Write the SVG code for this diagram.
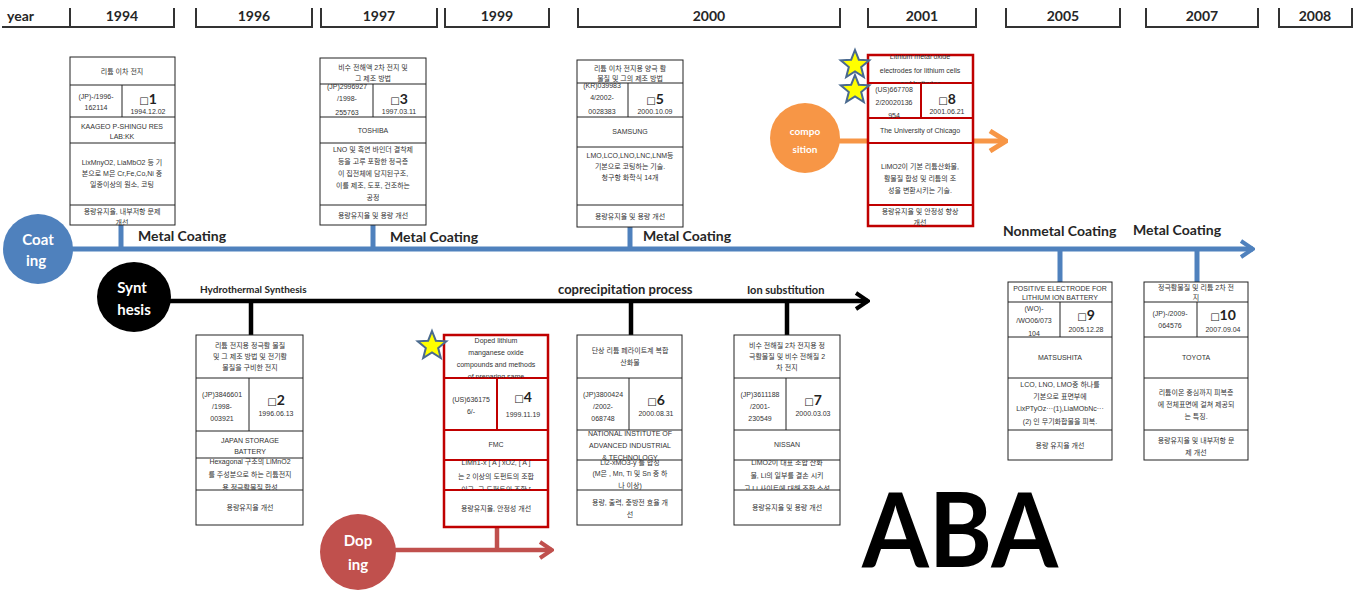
<svg xmlns="http://www.w3.org/2000/svg" width="1359" height="592" viewBox="0 0 1359 592">
<style>
.hd{font:bold 14px Lato,"Liberation Sans",sans-serif;fill:#262626;text-anchor:middle}
.hb{fill:none;stroke:#333;stroke-width:2}
.box{fill:#fff;stroke:#222;stroke-width:1}
.rbox{fill:#fff;stroke:#c00000;stroke-width:2.5}
.ln{stroke:#222;stroke-width:1}
.rln{stroke:#c00000;stroke-width:2}
.t{font:7px "Liberation Sans","Noto Sans CJK KR",sans-serif;fill:#333;text-anchor:middle}
.no{font:bold 14px Lato,"Liberation Sans",sans-serif;fill:#222;text-anchor:middle}
.no tspan{font-size:10px;font-family:"DejaVu Sans",sans-serif}
.lab{font:bold 14px Lato,"Liberation Sans",sans-serif;fill:#262626}
.ct{font:bold 15px Lato,"Liberation Sans",sans-serif;fill:#fff;text-anchor:middle}
.star{fill:#ffff00;stroke:#4a6a8f;stroke-width:2;stroke-linejoin:miter}
</style>
<defs>
<marker id="arrB" viewBox="0 0 20 20" refX="18" refY="10" markerWidth="20" markerHeight="20" markerUnits="userSpaceOnUse" orient="auto"><path d="M6,2 L18,10 L6,18" fill="none" stroke="#4f81bd" stroke-width="4"/></marker>
<marker id="arrK" viewBox="0 0 20 20" refX="18" refY="10" markerWidth="20" markerHeight="20" markerUnits="userSpaceOnUse" orient="auto"><path d="M6,2 L18,10 L6,18" fill="none" stroke="#000" stroke-width="4"/></marker>
<marker id="arrR" viewBox="0 0 20 20" refX="18" refY="10" markerWidth="20" markerHeight="20" markerUnits="userSpaceOnUse" orient="auto"><path d="M6,2 L18,10 L6,18" fill="none" stroke="#c0504d" stroke-width="4"/></marker>
<marker id="arrO" viewBox="0 0 24 24" refX="22" refY="12" markerWidth="24" markerHeight="24" markerUnits="userSpaceOnUse" orient="auto"><path d="M6,2 L22,12 L6,22" fill="none" stroke="#f79646" stroke-width="5"/></marker>
<path id="star" d="M0,-15 L3.82,-5.26 L14.27,-4.64 L6.18,2.01 L8.82,12.14 L0,6.5 L-8.82,12.14 L-6.18,2.01 L-14.27,-4.64 L-3.82,-5.26 Z"/>
<clipPath id="cp1e"><rect x="70" y="205" width="105" height="20"/></clipPath>
<clipPath id="cp3a"><rect x="320" y="84" width="53" height="33"/></clipPath>
<clipPath id="cp5a"><rect x="577" y="83" width="51" height="34"/></clipPath>
<clipPath id="cp8t"><rect x="868" y="55" width="105" height="28"/></clipPath>
<clipPath id="cp8a"><rect x="868" y="83" width="53" height="35"/></clipPath>
<clipPath id="cp8e"><rect x="868" y="205" width="105" height="21"/></clipPath>
<clipPath id="cp2d"><rect x="196" y="458" width="107" height="32"/></clipPath>
<clipPath id="cp4t"><rect x="444" y="335" width="104" height="43"/></clipPath>
<clipPath id="cp4d"><rect x="444" y="460" width="104" height="30"/></clipPath>
<clipPath id="cp6c"><rect x="577" y="430" width="105" height="30"/></clipPath>
<clipPath id="cp6d"><rect x="577" y="460" width="105" height="30"/></clipPath>
<clipPath id="cp7d"><rect x="734" y="460" width="106" height="30"/></clipPath>
<clipPath id="cp9a"><rect x="1008" y="302" width="52" height="35"/></clipPath>
</defs>
<rect width="1359" height="592" fill="#fff"/>

<!-- year header -->
<g id="header">
<text x="7" y="21" class="hd" style="text-anchor:start">year</text>
<path class="hb" d="M2,27 H70"/>
<path class="hb" d="M70,8 V27 H174 V8"/><text x="122" y="21" class="hd">1994</text>
<path class="hb" d="M196,8 V27 H312 V8"/><text x="254" y="21" class="hd">1996</text>
<path class="hb" d="M321,8 V27 H437 V8"/><text x="379" y="21" class="hd">1997</text>
<path class="hb" d="M445,8 V27 H549 V8"/><text x="497" y="21" class="hd">1999</text>
<path class="hb" d="M578,8 V27 H840 V8"/><text x="709" y="21" class="hd">2000</text>
<path class="hb" d="M868,8 V27 H976 V8"/><text x="922" y="21" class="hd">2001</text>
<path class="hb" d="M1006,8 V27 H1120 V8"/><text x="1063" y="21" class="hd">2005</text>
<path class="hb" d="M1146,8 V27 H1258 V8"/><text x="1202" y="21" class="hd">2007</text>
<path class="hb" d="M1279,8 V27 H1352 V8"/><text x="1315" y="21" class="hd">2008</text>
</g>

<!-- timelines and links -->
<g id="connectors">
<line x1="40" y1="249" x2="1253" y2="249" stroke="#4f81bd" stroke-width="5" marker-end="url(#arrB)"/>
<line x1="121" y1="225" x2="121" y2="249" stroke="#4f81bd" stroke-width="5"/>
<line x1="373" y1="225" x2="373" y2="249" stroke="#4f81bd" stroke-width="5"/>
<line x1="630" y1="227" x2="630" y2="249" stroke="#4f81bd" stroke-width="5"/>
<line x1="1060" y1="249" x2="1060" y2="282" stroke="#4f81bd" stroke-width="5"/>
<line x1="1197" y1="249" x2="1197" y2="282" stroke="#4f81bd" stroke-width="5"/>
<line x1="150" y1="301" x2="868" y2="301" stroke="#000" stroke-width="4.5" marker-end="url(#arrK)"/>
<line x1="251" y1="301" x2="251" y2="335" stroke="#000" stroke-width="4.5"/>
<line x1="631" y1="301" x2="631" y2="335" stroke="#000" stroke-width="4.5"/>
<line x1="787" y1="301" x2="787" y2="335" stroke="#000" stroke-width="4.5"/>
<line x1="380" y1="550" x2="552" y2="550" stroke="#c0504d" stroke-width="4.5" marker-end="url(#arrR)"/>
<line x1="497" y1="527" x2="497" y2="550" stroke="#c0504d" stroke-width="4.5"/>
<line x1="820" y1="141" x2="1006" y2="141" stroke="#f79646" stroke-width="5" marker-end="url(#arrO)"/>
</g>

<!-- category labels -->
<g id="labels">
<text x="138" y="241" class="lab">Metal Coating</text>
<text x="390" y="242" class="lab">Metal Coating</text>
<text x="643" y="241" class="lab">Metal Coating</text>
<text x="1003" y="236" class="lab">Nonmetal Coating</text>
<text x="1133" y="235" class="lab">Metal Coating</text>
<text x="200" y="293" class="lab" style="font-size:10px">Hydrothermal Synthesis</text>
<text x="558" y="294" class="lab" style="font-size:13px">coprecipitation process</text>
<text x="747" y="294" class="lab" style="font-size:11px">Ion substitution</text>
</g>

<!-- category circles -->
<g id="coating">
<circle cx="38" cy="249" r="35" fill="#4f81bd"/>
<text x="38" y="245" class="ct">Coat</text><text x="36" y="266" class="ct">ing</text>
</g>
<g id="synthesis">
<ellipse cx="134" cy="297" rx="37" ry="35" fill="#000"/>
<text x="132" y="293" class="ct">Synt</text><text x="134" y="315" class="ct">hesis</text>
</g>
<g id="doping">
<circle cx="358" cy="552" r="38" fill="#c0504d"/>
<text x="358" y="546" class="ct">Dop</text><text x="358" y="570" class="ct">ing</text>
</g>
<g id="composition">
<circle cx="805" cy="138" r="35" fill="#f79646"/>
<text x="805" y="135" class="ct" style="font-size:10px">compo</text><text x="805" y="153" class="ct" style="font-size:10px">sition</text>
</g>

<!-- patent 1 -->
<g id="p1">
<rect class="box" x="70" y="57" width="105" height="168"/>
<path class="ln" d="M70,85 H175 M70,117 H175 M70,143 H175 M70,205 H175 M122,85 V117"/>
<text class="t" x="122" y="74">리튬 이차 전지</text>
<text class="t" x="96" y="99">(JP)-/1996-</text><text class="t" x="96" y="110">162114</text>
<text class="no" x="148" y="104"><tspan>□</tspan>1</text><text class="t" x="148" y="114">1994.12.02</text>
<text class="t" x="122" y="129">KAAGEO P-SHINGU RES</text><text class="t" x="122" y="139">LAB:KK</text>
<text class="t" x="122" y="165">LixMnyO2, LiaMbO2 등 기</text>
<text class="t" x="122" y="176">본으로 M은 Cr,Fe,Co,Ni 중</text>
<text class="t" x="122" y="187">일종이상의 원소, 코팅</text>
<g clip-path="url(#cp1e)"><text class="t" x="122" y="214">용량유지율, 내부저항 문제</text><text class="t" x="122" y="225">개선</text></g>
</g>

<!-- patent 3 -->
<g id="p3">
<rect class="box" x="320" y="58" width="106" height="167"/>
<path class="ln" d="M320,84 H426 M320,117 H426 M320,143 H426 M320,205 H426 M373,84 V117"/>
<text class="t" x="373" y="70">비수 전해액 2차 전지 및</text><text class="t" x="373" y="81">그 제조 방법</text>
<g clip-path="url(#cp3a)"><text class="t" x="347" y="89">(JP)2996927</text><text class="t" x="347" y="101">/1998-</text><text class="t" x="347" y="115">255763</text></g>
<text class="no" x="399" y="104"><tspan>□</tspan>3</text><text class="t" x="399" y="114">1997.03.11</text>
<text class="t" x="373" y="133">TOSHIBA</text>
<text class="t" x="373" y="152">LNO 및 흑연 바인더 결착제</text>
<text class="t" x="373" y="164">등을 고루 포함한 정극층</text>
<text class="t" x="373" y="176">이 집전체에 담지된구조,</text>
<text class="t" x="373" y="188">이를 제조, 도포, 건조하는</text>
<text class="t" x="373" y="200">공정</text>
<text class="t" x="373" y="218">용량유지율 및 용량 개선</text>
</g>

<!-- patent 5 -->
<g id="p5">
<rect class="box" x="577" y="60" width="106" height="167"/>
<path class="ln" d="M577,83 H683 M577,117 H683 M577,147 H683 M577,205 H683 M628,83 V117"/>
<text class="t" x="630" y="71">리튬 이차 전지용 양극 활</text><text class="t" x="630" y="81">물질 및 그의 제조 방법</text>
<g clip-path="url(#cp5a)"><text class="t" x="602" y="88">(KR)039983</text><text class="t" x="602" y="100">4/2002-</text><text class="t" x="602" y="114">0028383</text></g>
<text class="no" x="655" y="104"><tspan>□</tspan>5</text><text class="t" x="655" y="114">2000.10.09</text>
<text class="t" x="630" y="134">SAMSUNG</text>
<text class="t" x="630" y="158">LMO,LCO,LNO,LNC,LNM등</text>
<text class="t" x="630" y="169">기본으로 코팅하는 기술.</text>
<text class="t" x="630" y="180">청구항 화학식 14개</text>
<text class="t" x="630" y="219">용량유지율 및 용량 개선</text>
</g>

<!-- patent 8 -->
<g id="p8">
<rect class="rbox" x="868" y="55" width="105" height="171"/>
<path class="rln" d="M868,83 H973 M868,118 H973 M868,143 H973 M868,205 H973 M921,83 V118"/>
<g clip-path="url(#cp8t)"><text class="t" x="920" y="59">Lithium metal oxide</text><text class="t" x="920" y="73">electrodes for lithium cells</text><text class="t" x="920" y="86">and batteries</text></g>
<g clip-path="url(#cp8a)"><text class="t" x="894" y="92">(US)667708</text><text class="t" x="894" y="105">2/20020136</text><text class="t" x="894" y="118">954</text></g>
<text class="no" x="947" y="104"><tspan>□</tspan>8</text><text class="t" x="947" y="114">2001.06.21</text>
<text class="t" x="920" y="133">The University of Chicago</text>
<text class="t" x="920" y="169">LiMO2이 기본 리튬산화물,</text>
<text class="t" x="920" y="181">활물질 합성 및 리튬의 조</text>
<text class="t" x="920" y="193">성을 변환시키는 기술.</text>
<g clip-path="url(#cp8e)"><text class="t" x="920" y="214">용량유지율 및 안정성 향상</text><text class="t" x="920" y="225">개선</text></g>
<use href="#star" class="star" x="855" y="65"/>
<use href="#star" class="star" x="855" y="90"/>
</g>

<!-- patent 2 -->
<g id="p2">
<rect class="box" x="196" y="335" width="107" height="190"/>
<path class="ln" d="M196,378 H303 M196,431 H303 M196,458 H303 M196,490 H303 M249,378 V431"/>
<text class="t" x="250" y="348">리튬 전지용 정극활 물질</text><text class="t" x="250" y="359">및 그 제조 방법 및 전기활</text><text class="t" x="250" y="370">물질을 구비한 전지</text>
<text class="t" x="222" y="397">(JP)3846601</text><text class="t" x="222" y="409">/1998-</text><text class="t" x="222" y="421">003921</text>
<text class="no" x="276" y="405"><tspan>□</tspan>2</text><text class="t" x="276" y="416">1996.06.13</text>
<text class="t" x="250" y="443">JAPAN STORAGE</text><text class="t" x="250" y="454">BATTERY</text>
<g clip-path="url(#cp2d)"><text class="t" x="250" y="464">Hexagonal 구조의 LiMnO2</text><text class="t" x="250" y="477">를 주성분으로 하는 리튬전지</text><text class="t" x="250" y="490">용 정극활물질 합성</text></g>
<text class="t" x="250" y="510">용량유지율 개선</text>
</g>

<!-- patent 4 -->
<g id="p4">
<rect class="rbox" x="444" y="335" width="104" height="192"/>
<path class="rln" d="M444,378 H548 M444,430 H548 M444,460 H548 M444,490 H548 M497,378 V430"/>
<g clip-path="url(#cp4t)"><text class="t" x="496" y="343">Doped lithium</text><text class="t" x="496" y="355">manganese oxide</text><text class="t" x="496" y="367">compounds and methods</text><text class="t" x="496" y="379">of preparing same</text></g>
<text class="t" x="471" y="402">(US)636175</text><text class="t" x="471" y="414">6/-</text>
<text class="no" x="523" y="402"><tspan>□</tspan>4</text><text class="t" x="523" y="417">1999.11.19</text>
<text class="t" x="496" y="447">FMC</text>
<g clip-path="url(#cp4d)"><text class="t" x="496" y="465">LiMn1-x [ A ] xO2, [ A ]</text><text class="t" x="496" y="479">는 2 이상의 도펀트의 조합</text><text class="t" x="496" y="492">이고, 그 도펀트의 조합 [</text></g>
<text class="t" x="496" y="511">용량유지율, 안정성 개선</text>
<use href="#star" class="star" x="432" y="346"/>
</g>

<!-- patent 6 -->
<g id="p6">
<rect class="box" x="577" y="335" width="105" height="190"/>
<path class="ln" d="M577,378 H682 M577,430 H682 M577,460 H682 M577,490 H682 M629,378 V430"/>
<text class="t" x="630" y="353">단상 리튬 페라이트계 복합</text><text class="t" x="630" y="365">산화물</text>
<text class="t" x="603" y="397">(JP)3800424</text><text class="t" x="603" y="409">/2002-</text><text class="t" x="603" y="421">068748</text>
<text class="no" x="656" y="405"><tspan>□</tspan>6</text><text class="t" x="656" y="416">2000.08.31</text>
<g clip-path="url(#cp6c)"><text class="t" x="630" y="436">NATIONAL INSTITUTE OF</text><text class="t" x="630" y="448">ADVANCED INDUSTRIAL</text><text class="t" x="630" y="460">&amp; TECHNOLOGY</text></g>
<g clip-path="url(#cp6d)"><text class="t" x="630" y="465">Li2-xMO3-y 를 합성</text><text class="t" x="630" y="476">(M은 , Mn, Ti 및 Sn 중 하</text><text class="t" x="630" y="488">나 이상)</text></g>
<text class="t" x="630" y="505">용량, 출력, 충방전 효율 개</text><text class="t" x="630" y="517">선</text>
</g>

<!-- patent 7 -->
<g id="p7">
<rect class="box" x="734" y="335" width="106" height="190"/>
<path class="ln" d="M734,378 H840 M734,430 H840 M734,460 H840 M734,490 H840 M786,378 V430"/>
<text class="t" x="787" y="348">비수 전해질 2차 전지용 정</text><text class="t" x="787" y="359">극활물질 및 비수 전해질 2</text><text class="t" x="787" y="370">차 전지</text>
<text class="t" x="760" y="397">(JP)3611188</text><text class="t" x="760" y="409">/2001-</text><text class="t" x="760" y="421">230549</text>
<text class="no" x="813" y="405"><tspan>□</tspan>7</text><text class="t" x="813" y="416">2000.03.03</text>
<text class="t" x="787" y="447">NISSAN</text>
<g clip-path="url(#cp7d)"><text class="t" x="787" y="465">LiMO2이 대표 조합 산화</text><text class="t" x="787" y="478">물, Li의 일부를 결손 시키</text><text class="t" x="787" y="491">고 Li 사이트에 대해 조합 소성</text></g>
<text class="t" x="787" y="510">용량유지율 및 용량 개선</text>
</g>

<!-- patent 9 -->
<g id="p9">
<rect class="box" x="1008" y="282" width="104" height="178"/>
<path class="ln" d="M1008,302 H1112 M1008,337 H1112 M1008,378 H1112 M1008,430 H1112 M1060,302 V337"/>
<text class="t" x="1060" y="291">POSITIVE ELECTRODE FOR</text><text class="t" x="1060" y="300">LITHIUM ION BATTERY</text>
<g clip-path="url(#cp9a)"><text class="t" x="1034" y="311">(WO)-</text><text class="t" x="1034" y="323">/WO06/073</text><text class="t" x="1034" y="336">104</text></g>
<text class="no" x="1086" y="320"><tspan>□</tspan>9</text><text class="t" x="1086" y="332">2005.12.28</text>
<text class="t" x="1060" y="360">MATSUSHITA</text>
<text class="t" x="1060" y="387">LCO, LNO, LMO중 하나를</text>
<text class="t" x="1060" y="399">기본으로 표면부에</text>
<text class="t" x="1060" y="411">LixPTyOz···(1),LiaMObNc···</text>
<text class="t" x="1060" y="424">(2) 인 무기화합물을 피복.</text>
<text class="t" x="1060" y="448">용량 유지율 개선</text>
</g>

<!-- patent 10 -->
<g id="p10">
<rect class="box" x="1144" y="282" width="104" height="178"/>
<path class="ln" d="M1144,302 H1248 M1144,337 H1248 M1144,378 H1248 M1144,430 H1248 M1197,302 V337"/>
<text class="t" x="1196" y="290">정극활물질 및 리튬 2차 전</text><text class="t" x="1196" y="300">지</text>
<text class="t" x="1170" y="316">(JP)-/2009-</text><text class="t" x="1170" y="328">064576</text>
<text class="no" x="1223" y="320"><tspan>□</tspan>10</text><text class="t" x="1223" y="332">2007.09.04</text>
<text class="t" x="1196" y="360">TOYOTA</text>
<text class="t" x="1196" y="395">리튬이온 중심까지 피복층</text>
<text class="t" x="1196" y="407">에 전체표면에 걸쳐 제공되</text>
<text class="t" x="1196" y="419">는 특징.</text>
<text class="t" x="1196" y="443">용량유지율 및 내부저항 문</text><text class="t" x="1196" y="455">제 개선</text>
</g>

<g id="title">
<text x="862" y="567" textLength="196" lengthAdjust="spacingAndGlyphs" style="font:bold 104px Lato,'Liberation Sans',sans-serif;fill:#000">ABA</text>
</g>
</svg>
